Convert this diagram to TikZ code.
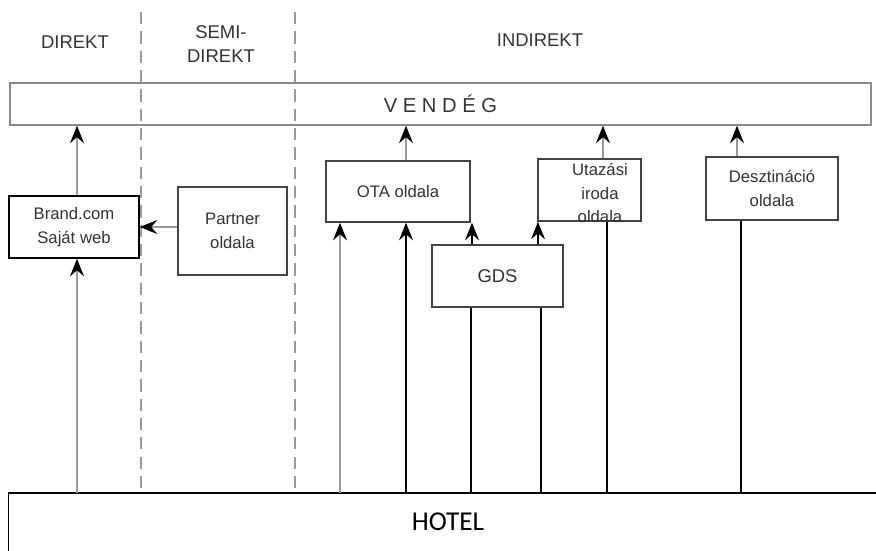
\documentclass[tikz,border=0pt]{standalone}
\usepackage{fontspec}
\setmainfont{Liberation Sans}
\newfontfamily\hotelfont{Carlito}
\definecolor{ink}{HTML}{333333}
\definecolor{rule}{HTML}{9A9A9A}
\definecolor{frame}{HTML}{8A8A8A}
\definecolor{edge}{HTML}{444444}
\usetikzlibrary{arrows.meta, positioning}
\tikzset{
  box/.style={
    draw=#1, fill=white, line width=0.9pt, inner sep=0pt,
    font=\fontsize{9.5}{13.5}\selectfont, text=ink, align=center
  },
  box/.default=edge,
  head/.style={font=\fontsize{10.5}{14}\selectfont, text=ink, align=center},
  sep/.style={rule, line width=0.7pt, dash pattern=on 7pt off 4pt},
  uarr/.style={-{Stealth[length=10pt,width=8pt,inset=3.5pt,color=black]},
    color=#1, line width=0.6pt},
  uarr/.default=rule,
  link/.style={black, line width=0.7pt},
}
\begin{document}
\begin{tikzpicture}[x=0.02cm, y=-0.02cm]
  \useasboundingbox (0,0) rectangle (876,551);

  % Channels
  \node[head] (direkt) at (75,42) {DIREKT};
  \node[head] (semi) at (221,44) {SEMI-\\DIREKT};
  \node[head] (indirekt) at (540,40) {INDIREKT};

  % Guest and hotel
  \node[draw=frame, line width=0.8pt, minimum width=17.22cm, minimum height=0.84cm,
    font=\fontsize{11.5}{14}\selectfont, text=ink] (vendeg) at (440.5,104)
    {V E N D É G};
  \node[minimum width=17.56cm, minimum height=1.14cm,
    font=\hotelfont\fontsize{15.5}{18}\selectfont] (hotel) at (448,522) {HOTEL};
  \draw[black, line width=0.8pt] (hotel.south west) |- (hotel.north east);

  \draw[sep] (141,12) -- (hotel.north -| 141,0);
  \draw[sep] (295,12) -- (hotel.north -| 295,0);

  % Sites
  \node[box=black, minimum width=2.6cm, minimum height=1.24cm] (brand) at (74,227)
    {Brand.com\\Saját web};
  \node[box, minimum width=2.18cm, minimum height=1.76cm] (partner) at (232.5,231)
    {Partner\\oldala};
  \node[box, minimum width=2.88cm, minimum height=1.22cm] (ota) at (398,191.5)
    {OTA oldala};
  \node[box, minimum width=2.06cm, minimum height=1.24cm] (utaz) at (589.5,190) {};
  \node[font=\fontsize{9.5}{13.6}\selectfont, text=ink, align=center, inner sep=0pt]
    (utaztext) at (600,193) {Utazási\\iroda\\oldala};
  \node[box, minimum width=2.64cm, minimum height=1.26cm] (deszt) at (772,188.5)
    {Desztináció\\oldala};
  \node[box, font=\fontsize{10.5}{13}\selectfont, minimum width=2.62cm,
    minimum height=1.24cm] (gds) at (497.5,276) {GDS};

  % Flows to the guest
  \draw[uarr] (brand.north -| 77,0) -- (vendeg.south -| 77,0);
  \draw[uarr] (ota.north -| 406,0) -- (vendeg.south -| 406,0);
  \draw[uarr] (utaz.north -| 603,0) -- (vendeg.south -| 603,0);
  \draw[uarr] (deszt.north -| 737,0) -- (vendeg.south -| 737,0);

  % Flows from the hotel
  \draw[uarr] (hotel.north -| 77,0) -- (brand.south -| 77,0);
  \draw[uarr] (partner.west |- 0,227) -- (brand.east |- 0,227);
  \draw[uarr] (hotel.north -| 340,0) -- (ota.south -| 340,0);
  \draw[uarr=black] (hotel.north -| 406,0) -- (ota.south -| 406,0);
  \draw[uarr=black] (gds.north -| 472,0) -- (ota.south -| 472,0);
  \draw[uarr=black] (gds.north -| 538,0) -- (utaz.south -| 538,0);
  \draw[link] (hotel.north -| 471,0) -- (gds.south -| 471,0);
  \draw[link] (hotel.north -| 541,0) -- (gds.south -| 541,0);
  \draw[link] (hotel.north -| 607,0) -- (utaz.south -| 607,0);
  \draw[link] (hotel.north -| 741,0) -- (deszt.south -| 741,0);
\end{tikzpicture}
\end{document}
